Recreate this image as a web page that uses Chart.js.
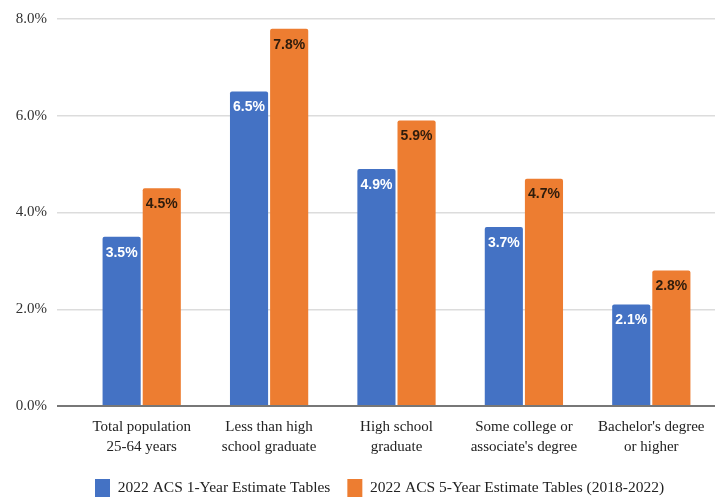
<!DOCTYPE html>
<html>
<head>
<meta charset="utf-8">
<script src="https://cdn.jsdelivr.net/npm/chart.js@4/dist/chart.umd.min.js"></script>
<style>
  html, body { margin: 0; padding: 0; background: #ffffff; }
  #wrap { width: 720px; height: 499px; }
</style>
</head>
<body>
<div id="wrap"><canvas id="chart" width="720" height="499"></canvas></div>
<script>
// Unemployment rate by educational attainment, population 25-64 years
const categories = [
  ['Total population', '25-64 years'],
  ['Less than high', 'school graduate'],
  ['High school', 'graduate'],
  ['Some college or', "associate's degree"],
  ["Bachelor's degree", 'or higher']
];
const seriesNames = [
  '2022 ACS 1-Year Estimate Tables',
  '2022 ACS 5-Year Estimate Tables (2018-2022)'
];
const oneYear = [3.5, 6.5, 4.9, 3.7, 2.1];
const fiveYear = [4.5, 7.8, 5.9, 4.7, 2.8];
const yTicks = [0, 2, 4, 6, 8];

const BLUE = '#4472C4';
const ORANGE = '#ED7D31';
const SERIF = '"Liberation Serif", "Times New Roman", serif';
const SANS = '"Liberation Sans Narrow", "Liberation Sans", Arial, sans-serif';

// Writes each bar's value inside the top of the bar
const valueLabels = {
  id: 'valueLabels',
  afterDatasetsDraw(chart) {
    const ctx = chart.ctx;
    ctx.save();
    ctx.font = 'bold 14px ' + SANS;
    ctx.textAlign = 'center';
    ctx.textBaseline = 'middle';
    chart.data.datasets.forEach((ds, di) => {
      const meta = chart.getDatasetMeta(di);
      meta.data.forEach((bar, i) => {
        ctx.fillStyle = di === 0 ? '#ffffff' : '#2e1c0c';
        ctx.fillText(ds.data[i].toFixed(1) + '%', bar.x, bar.y + 16);
      });
    });
    ctx.restore();
  }
};

new Chart(document.getElementById('chart'), {
  type: 'bar',
  data: {
    labels: categories,
    datasets: [
      { label: seriesNames[0], data: oneYear, backgroundColor: BLUE },
      { label: seriesNames[1], data: fiveYear, backgroundColor: ORANGE }
    ]
  },
  options: {
    responsive: false,
    animation: false,
    devicePixelRatio: 1,
    layout: { padding: { top: 7, right: 5, bottom: -8, left: 0 } },
    datasets: {
      bar: {
        categoryPercentage: 0.63,
        barPercentage: 0.95,
        borderRadius: { topLeft: 2, topRight: 2 },
        borderSkipped: 'bottom'
      }
    },
    scales: {
      x: {
        afterFit(scale) { scale.height = 56; },
        grid: { display: false },
        border: { display: false },
        ticks: {
          color: '#222222',
          font: { family: SERIF, size: 15, lineHeight: 1.33 },
          padding: 3,
          maxRotation: 0,
          autoSkip: false
        }
      },
      y: {
        min: 0,
        max: 8,
        afterFit(scale) { scale.width = 78; },
        afterBuildTicks(scale) { scale.ticks = yTicks.map(v => ({ value: v })); },
        border: { display: false },
        grid: {
          tickLength: 21,
          lineWidth: (c) => c.tick && c.tick.value === 0 ? 2 : 1.5,
          color: (c) => c.tick && c.tick.value === 0 ? '#777777' : '#dcdcdc'
        },
        ticks: {
          color: '#333333',
          padding: 10,
          font: { family: SERIF, size: 15 },
          callback: (v) => Number(v).toFixed(1) + '%'
        }
      }
    },
    plugins: {
      legend: {
        position: 'bottom',
        fullSize: false,
        align: 'start',
        labels: {
          color: '#222222',
          font: { family: SERIF, size: 15.5 },
          boxWidth: 15,
          boxHeight: 18,
          padding: 17
        }
      },
      tooltip: { enabled: false }
    }
  },
  plugins: [valueLabels]
});
</script>
</body>
</html>
